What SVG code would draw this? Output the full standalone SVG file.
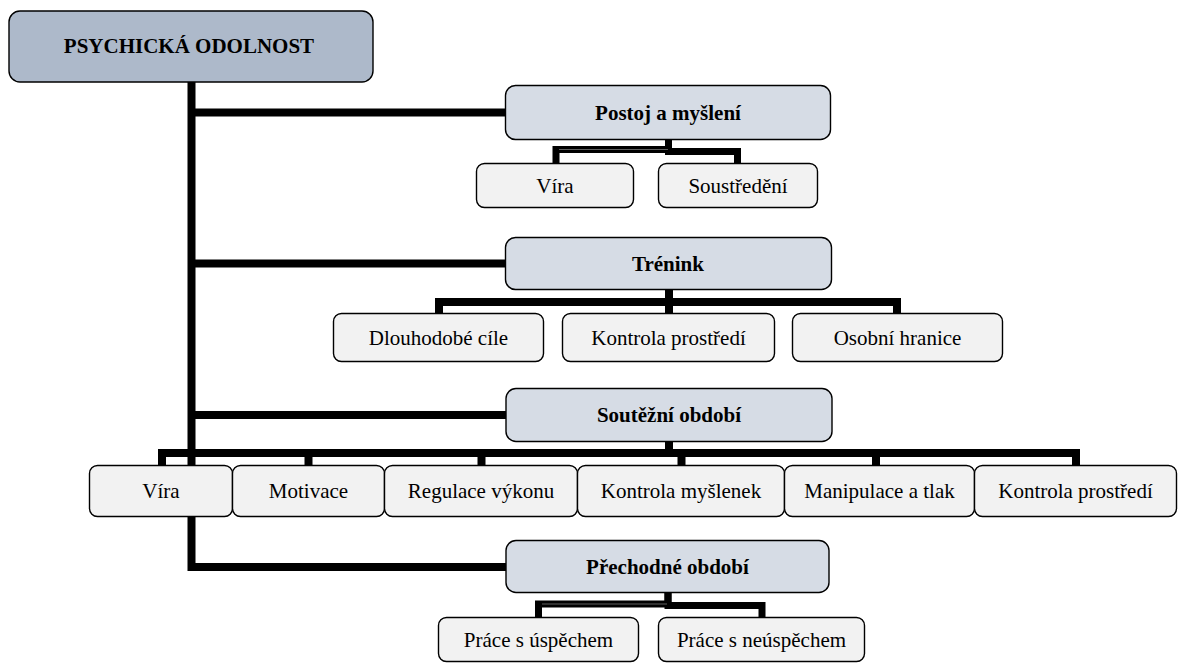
<svg xmlns="http://www.w3.org/2000/svg" width="1179" height="666" viewBox="0 0 1179 666">
<style>
.root{fill:#adb9ca;stroke:#000;stroke-width:1.4}
.hdr{fill:#d6dce5;stroke:#000;stroke-width:1.4}
.leaf{fill:#f2f2f2;stroke:#000;stroke-width:1.4}
text{font-family:"Liberation Serif","DejaVu Serif",serif;font-size:21px;text-anchor:middle;fill:#000}
.bt{font-weight:bold}
.c{fill:none;stroke:#000;stroke-width:8;stroke-linejoin:miter}
.c7{fill:none;stroke:#000;stroke-width:7;stroke-linejoin:miter}
.hl{fill:none;stroke:#777;stroke-width:0.8}
</style>
<rect width="1179" height="666" fill="#fff"/>
<g id="connectors">
<path class="c" d="M191.5 82 V571"/>
<path class="c" d="M191.5 112.5 H506"/>
<path class="c" d="M191.5 263.5 H506"/>
<path class="c" d="M191.5 415 H506"/>
<path class="c" d="M191.5 567 H506"/>
<path class="c7" d="M668.5 139 V149.5 H556 V163"/>
<path class="c7" d="M668.5 139 V151.5 H737.5 V163"/>
<path class="hl" d="M668 149.5 H559"/>
<path class="c" d="M669 290 V313"/>
<path class="c" d="M669 302 H439 V313"/>
<path class="c" d="M669 302 H897 V313"/>
<path class="c" d="M669 442 V453"/>
<path class="c" d="M158 453 H1080"/>
<path class="c" d="M162 453 V465 M308.5 453 V465 M481.5 453 V465 M681.5 453 V465 M876 453 V465 M1076 453 V465"/>
<path class="c7" d="M668 593 V604 H538.5 V617"/>
<path class="c7" d="M668 593 V605.5 H762 V617"/>
<path class="hl" d="M667 604 H542"/>
</g>
<g id="n-root"><rect class="root" x="9" y="11" width="364" height="71" rx="11"/><text class="bt" x="189" y="53" font-family="Liberation Serif, serif">PSYCHICKÁ ODOLNOST</text></g>
<g id="n-postoj"><rect class="hdr" x="505.5" y="85.5" width="325" height="54" rx="10"/><text class="bt" x="668" y="120" font-family="Liberation Serif, serif">Postoj a myšlení</text></g>
<g id="n-vira1"><rect class="leaf" x="476.5" y="163.5" width="157" height="44" rx="8"/><text x="555" y="193" font-family="Liberation Serif, serif">Víra</text></g>
<g id="n-soustredeni"><rect class="leaf" x="658.5" y="163.5" width="159" height="44" rx="8"/><text x="738" y="193" font-family="Liberation Serif, serif">Soustředění</text></g>
<g id="n-trenink"><rect class="hdr" x="505.5" y="237.5" width="326" height="52" rx="10"/><text class="bt" x="668" y="271" font-family="Liberation Serif, serif">Trénink</text></g>
<g id="n-dlouhodobe"><rect class="leaf" x="333.5" y="313.5" width="210" height="48" rx="8"/><text x="438.5" y="345" font-family="Liberation Serif, serif">Dlouhodobé cíle</text></g>
<g id="n-kontrola1"><rect class="leaf" x="562.5" y="313.5" width="212" height="48" rx="8"/><text x="668.5" y="345" font-family="Liberation Serif, serif">Kontrola prostředí</text></g>
<g id="n-osobni"><rect class="leaf" x="792.5" y="313.5" width="210" height="48" rx="8"/><text x="897.5" y="345" font-family="Liberation Serif, serif">Osobní hranice</text></g>
<g id="n-soutezni"><rect class="hdr" x="506" y="388.5" width="326" height="53" rx="10"/><text class="bt" x="669" y="422" font-family="Liberation Serif, serif">Soutěžní období</text></g>
<g id="n-vira2"><rect class="leaf" x="89.5" y="465.5" width="143" height="51" rx="8"/><text x="161" y="498" font-family="Liberation Serif, serif">Víra</text></g>
<g id="n-motivace"><rect class="leaf" x="232.5" y="465.5" width="152" height="51" rx="8"/><text x="308.5" y="498" font-family="Liberation Serif, serif">Motivace</text></g>
<g id="n-regulace"><rect class="leaf" x="384.5" y="465.5" width="193" height="51" rx="8"/><text x="481" y="498" font-family="Liberation Serif, serif">Regulace výkonu</text></g>
<g id="n-myslenky"><rect class="leaf" x="577.5" y="465.5" width="207" height="51" rx="8"/><text x="681" y="498" font-family="Liberation Serif, serif">Kontrola myšlenek</text></g>
<g id="n-manipulace"><rect class="leaf" x="784.5" y="465.5" width="190" height="51" rx="8"/><text x="879.5" y="498" font-family="Liberation Serif, serif">Manipulace a tlak</text></g>
<g id="n-kontrola2"><rect class="leaf" x="974.5" y="465.5" width="202" height="51" rx="8"/><text x="1075.5" y="498" font-family="Liberation Serif, serif">Kontrola prostředí</text></g>
<g id="n-prechodne"><rect class="hdr" x="506" y="540.5" width="323" height="52" rx="10"/><text class="bt" x="667.5" y="574" font-family="Liberation Serif, serif">Přechodné období</text></g>
<g id="n-uspech"><rect class="leaf" x="438.5" y="617.5" width="200" height="44" rx="8"/><text x="538.5" y="647" font-family="Liberation Serif, serif">Práce s úspěchem</text></g>
<g id="n-neuspech"><rect class="leaf" x="658.5" y="617.5" width="206" height="44" rx="8"/><text x="761.5" y="647" font-family="Liberation Serif, serif">Práce s neúspěchem</text></g>
</svg>
